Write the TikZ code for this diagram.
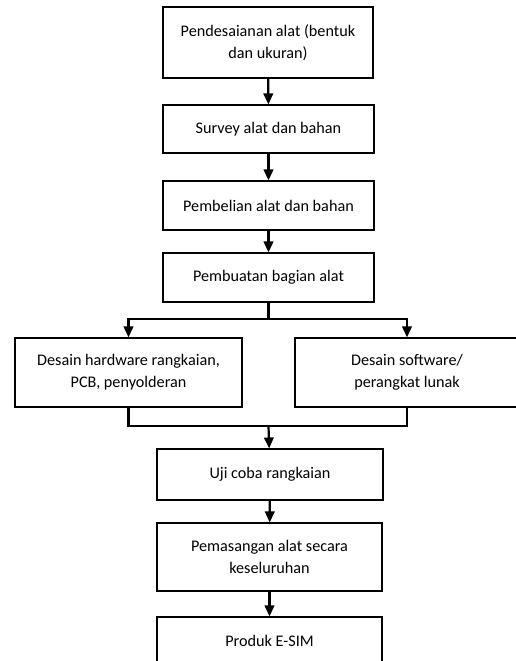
\documentclass[tikz,border=0pt]{standalone}
\usepackage{fontspec}
\setmainfont{Carlito}
\usetikzlibrary{arrows.meta}

\begin{document}
\begin{tikzpicture}[x=1pt, y=-1pt,
    box/.style={draw, line width=1.1pt, rectangle, inner sep=0pt, align=center,
                font=\fontsize{16.2}{22}\selectfont},
    link/.style={line width=2.2pt},
    arr/.style={link, -{Triangle[length=11pt,width=9.5pt]}}]
    \useasboundingbox (0,0) rectangle (516,661);
    \clip (0,0) rectangle (516,661);

    % Boxes
    \node[box, minimum width=210pt, minimum height=71pt] (desain) at (268,42.5)
        {Pendesaianan alat (bentuk\\dan ukuran)};
    \node[box, minimum width=211pt, minimum height=48pt] (survey) at (268.5,129)
        {Survey alat dan bahan};
    \node[box, minimum width=211pt, minimum height=49pt] (beli) at (268.5,205.5)
        {Pembelian alat dan bahan};
    \node[box, minimum width=211pt, minimum height=49pt] (buat) at (268.5,277.5)
        {Pembuatan bagian alat};
    \node[box, minimum width=227pt, minimum height=69pt] (hw) at (128.5,372.5)
        {Desain hardware rangkaian,\\PCB, penyolderan};
    \node[box, minimum width=224pt, minimum height=69pt] (sw) at (407,372.5)
        {Desain software/\\perangkat lunak};
    \node[box, minimum width=226pt, minimum height=51pt] (uji) at (270,474.5)
        {Uji coba rangkaian};
    \node[box, minimum width=225pt, minimum height=68pt] (pasang) at (269.5,557)
        {Pemasangan alat secara\\keseluruhan};
    \node[box, minimum width=225pt, minimum height=48pt] (produk) at (269.5,641)
        {Produk E-SIM};

    % Branch points
    \coordinate (fork) at (268.5,319);
    \coordinate (join) at (268.5,426);

    % Arrows
    \draw[arr] (desain) -- (survey);
    \draw[arr] (survey) -- (beli);
    \draw[arr] (beli) -- (buat);
    \draw[link] (buat) -- (fork);
    \draw[arr] (fork) -| (hw);
    \draw[arr] (fork) -| (sw);
    \draw[link] (hw) |- (join) -| (sw);
    \draw[arr] (join) -- (uji);
    \draw[arr] (uji) -- (pasang);
    \draw[arr] (pasang) -- (produk);
\end{tikzpicture}
\end{document}
